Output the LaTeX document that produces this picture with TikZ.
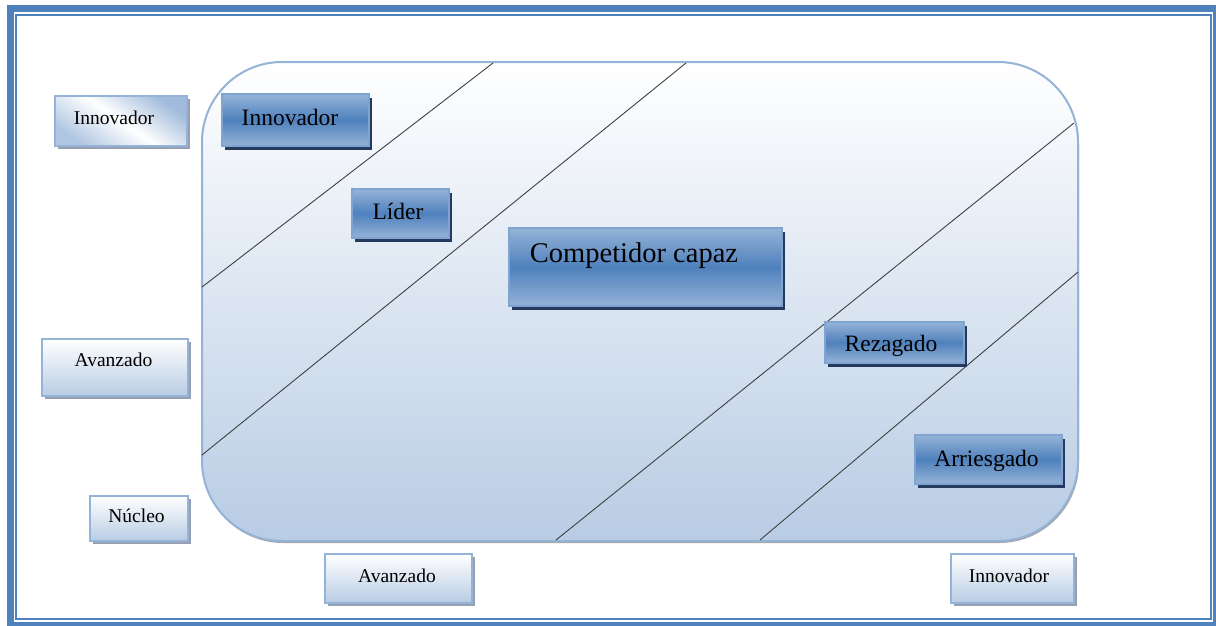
\documentclass[tikz,border=0pt]{standalone}
\usepackage{fontspec}
\setmainfont{Liberation Serif}
\usetikzlibrary{shadows}

\definecolor{frameblue}{RGB}{79,129,189}
\definecolor{paleblue}{RGB}{184,204,228}
\definecolor{edgeblue}{RGB}{149,179,215}
\definecolor{deepblue}{RGB}{79,129,189}
\definecolor{navyshadow}{RGB}{36,58,94}
\definecolor{greyshadow}{RGB}{150,160,176}

\tikzset{
  panel/.style={draw=edgeblue, line width=2pt, top color=white, bottom color=paleblue,
    rounded corners=80pt, inner sep=0pt,
    drop shadow={shadow xshift=1pt, shadow yshift=-2pt, fill=black!35, opacity=1}},
  lightbox/.style={draw=edgeblue, line width=2pt, top color=white, bottom color=paleblue,
    inner sep=0pt,
    drop shadow={shadow xshift=3pt, shadow yshift=-3pt, fill=greyshadow, opacity=1}},
  darkbox/.style={draw=edgeblue!70!deepblue, line width=1.5pt, top color=edgeblue,
    bottom color=edgeblue, middle color=deepblue, inner sep=0pt,
    drop shadow={shadow xshift=3pt, shadow yshift=-4pt, fill=navyshadow, opacity=1}},
  lbl/.style={inner sep=0pt, text depth=0pt},
  smalltext/.style={lbl, text height=12.9pt, font=\fontsize{19.5}{22}\selectfont},
  bigtext/.style={lbl, text height=15.6pt, font=\fontsize{23.5}{26}\selectfont},
  hugetext/.style={lbl, text height=18.9pt, font=\fontsize{28.5}{32}\selectfont},
  divider/.style={draw=black!75, line width=0.9pt},
}

\begin{document}
\begin{tikzpicture}[x=1pt, y=-1pt]
  \useasboundingbox (0,0) rectangle (1216,625);
  \fill[white] (0,0) rectangle (1216,625);

  % double page frame
  \draw[frameblue, line width=7pt] (10.5,8.5) rectangle (1216.5,625.5);
  \draw[frameblue, line width=2pt] (16,15) rectangle (1211,618.5);

  % main rounded panel
  \node[panel, minimum width=876pt, minimum height=479pt] (panel) at (640,301.5) {};

  % diagonal dividers
  \coordinate (d1a) at (493,63);   \coordinate (d1b) at (202,287);
  \coordinate (d2a) at (686,63);   \coordinate (d2b) at (202,455);
  \coordinate (d3a) at (1074,123); \coordinate (d3b) at (556,540);
  \coordinate (d4a) at (1078,272); \coordinate (d4b) at (760,540);
  \draw[divider] (d1a) -- (d1b);
  \draw[divider] (d2a) -- (d2b);
  \draw[divider] (d3a) -- (d3b);
  \draw[divider] (d4a) -- (d4b);

  % axis labels outside the panel
  \node[lightbox, minimum width=132pt, minimum height=50pt,
        top color=edgeblue!90, bottom color=edgeblue!75, middle color=white,
        shading angle=-35] (innovL) at (121,121) {};
  \node[smalltext] (innovLt) at (114,117.7) {Innovador};

  \node[lightbox, minimum width=146pt, minimum height=57pt] (avanL) at (115,367.5) {};
  \node[smalltext] (avanLt) at (113.5,360) {Avanzado};

  \node[lightbox, minimum width=98pt, minimum height=45pt] (nucleo) at (139,518.5) {};
  \node[smalltext] (nucleot) at (136.5,516) {Núcleo};

  \node[lightbox, minimum width=147pt, minimum height=49pt] (avanB) at (398.5,578.5) {};
  \node[smalltext] (avanBt) at (397,576) {Avanzado};

  \node[lightbox, minimum width=123pt, minimum height=49pt] (innovR) at (1012.5,578.5) {};
  \node[smalltext] (innovRt) at (1009,576) {Innovador};

  % categories inside the panel
  \node[darkbox, minimum width=147pt, minimum height=52pt] (innov) at (295.5,120) {};
  \node[bigtext] (innovt) at (290,117.5) {Innovador};

  \node[darkbox, minimum width=97pt, minimum height=49pt] (lider) at (400.5,213.5) {};
  \node[bigtext] (lidert) at (398,211.5) {Líder};

  \node[darkbox, minimum width=273pt, minimum height=78pt] (comp) at (645.5,267) {};
  \node[hugetext] (compt) at (634,253.5) {Competidor capaz};

  \node[darkbox, minimum width=139pt, minimum height=41pt] (rez) at (894.5,342.5) {};
  \node[bigtext] (rezt) at (891,344) {Rezagado};

  \node[darkbox, minimum width=147pt, minimum height=49pt] (arr) at (988.5,459.5) {};
  \node[bigtext] (arrt) at (986.5,458.3) {Arriesgado};
\end{tikzpicture}
\end{document}
